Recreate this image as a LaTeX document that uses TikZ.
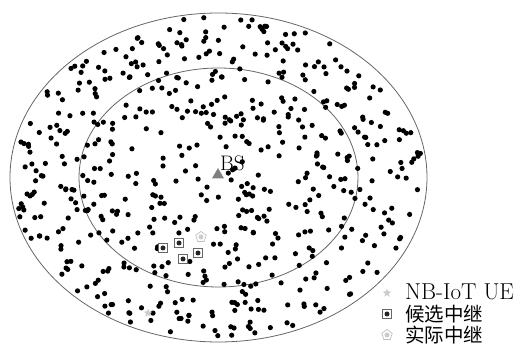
\documentclass[tikz,border=0pt]{standalone}
\usepackage{fontspec}
\newfontfamily\cjk{Noto Sans CJK SC}
\usetikzlibrary{shapes.geometric}
\tikzset{
  ring/.style={draw=black!60, line width=0.8pt},
  uedot/.style={fill=black},
  candbox/.style={draw=black!60, line width=0.7pt, rectangle, minimum size=9.5pt, inner sep=0pt, fill=white},
  actual/.style={draw=black!25, fill=white, line width=0.7pt, regular polygon, regular polygon sides=5, minimum size=11pt, inner sep=0pt},
  uestar/.style={fill=black!20, star, star points=5, star point ratio=2.3, minimum size=9pt, inner sep=0pt},
  bstri/.style={fill=black!50, regular polygon, regular polygon sides=3, minimum size=14pt, inner sep=0pt},
  lbl/.style={anchor=west, inner sep=0pt, font=\fontsize{23}{26}\selectfont},
  cjklbl/.style={anchor=west, inner sep=0pt, font=\cjk\fontsize{19.5}{21}\selectfont},
}
\begin{document}
\begin{tikzpicture}[x=1pt,y=-1pt]
\useasboundingbox (0,0) rectangle (515,347);
\coordinate (c) at (218.5,177.5);
\draw[ring] (c) ellipse [x radius=208.5, y radius=164.5];
\draw[ring] (c) ellipse [x radius=139.5, y radius=109.5];
\pgfmathsetseed{4711}
\foreach \i in {1,...,580}{
  \pgfmathsetmacro\rr{sqrt(rnd)}
  \pgfmathsetmacro\tt{360*rnd}
  \fill[uedot] ({218.5+205*\rr*cos(\tt)},{177.5+161*\rr*sin(\tt)}) circle[radius=2.6];
}
% base station
\node[bstri] (bs) at (218,175) {};
\node[lbl, font=\fontsize{21}{24}\selectfont] (bsl) at (220,163) {BS};
% candidate relays
\foreach \n/\x/\y in {a/163/248, b/179/243, c/183/259, d/198/253}{
  \node[candbox] (cand\n) at (\x,\y) {};
  \fill[black!85] (cand\n.center) circle[radius=2.5];
}
% actual relay
\node[actual] (act) at (201,237) {};
\fill[black!20] (act.center) circle[radius=2.5];
% NB-IoT UE
\node[uestar] (ue) at (148,313) {};
% legend
\node[uestar] (lg1) at (387,293) {};
\node[lbl] (lt1) at (405,292) {NB-IoT UE};
\node[candbox] (lg2) at (387,314) {};
\fill[black!85] (lg2.center) circle[radius=2.5];
\node[cjklbl] (lt2) at (405,314) {候选中继};
\node[actual] (lg3) at (387,335) {};
\fill[black!20] (lg3.center) circle[radius=2.5];
\node[cjklbl] (lt3) at (405,335) {实际中继};
\end{tikzpicture}
\end{document}
